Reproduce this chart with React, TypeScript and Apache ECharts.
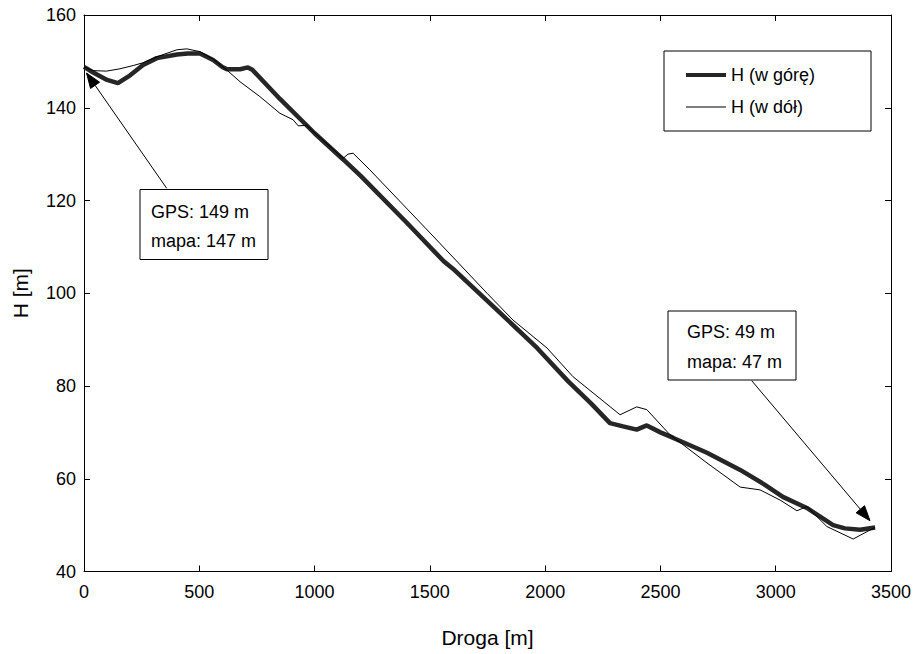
import React, { useEffect, useRef } from "react";
import * as echarts from "echarts";

// H (w górę) — ascent profile [droga m, H m]
const upDistance = [0, 40, 100, 147, 200, 256, 316, 403, 450, 503, 560, 600, 620, 677, 711, 730, 850, 1000, 1123, 1200, 1400, 1560, 1600, 1800, 1965, 2100, 2200, 2281, 2338, 2397, 2441, 2500, 2556, 2702, 2846, 2950, 3031, 3135, 3249, 3300, 3366, 3431];
const upHeight = [148.8, 147.6, 146.0, 145.3, 147.0, 149.2, 150.7, 151.5, 151.7, 151.7, 150.3, 148.8, 148.3, 148.3, 148.7, 148.2, 141.9, 134.5, 128.9, 125.3, 115.2, 106.9, 105.3, 96.0, 88.2, 81.0, 76.2, 72.0, 71.3, 70.6, 71.5, 70.0, 68.8, 65.6, 61.9, 58.8, 56.1, 53.7, 50.0, 49.3, 49.0, 49.5];

// H (w dół) — descent profile
const downDistance = [0, 40, 98, 156, 213, 256, 316, 403, 446, 503, 560, 620, 677, 763, 850, 907, 929, 966, 1000, 1124, 1145, 1167, 1240, 1501, 1748, 1861, 2008, 2121, 2325, 2397, 2441, 2541, 2702, 2846, 2932, 3019, 3092, 3135, 3222, 3336, 3396, 3431];
const downHeight = [148.8, 148.0, 147.9, 148.4, 149.1, 149.7, 151.0, 152.5, 152.7, 152.1, 150.5, 148.1, 145.6, 142.4, 138.8, 137.4, 136.1, 136.2, 134.6, 129.1, 130.0, 130.2, 126.6, 113.0, 100.0, 94.2, 88.2, 82.0, 73.8, 75.5, 74.9, 69.5, 63.4, 58.2, 57.6, 55.4, 53.1, 54.0, 49.7, 47.0, 48.6, 49.5];

const seriesNames = ["H (w górę)", "H (w dół)"];
const xTicks = { min: 0, max: 3500, interval: 500 };
const yTicks = { min: 40, max: 160, interval: 20 };
const note1 = ["GPS: 149 m", "mapa: 147 m"];
const note2 = ["GPS: 49 m", "mapa: 47 m"];

const FONT = "Liberation Sans, Arial, sans-serif";
const THICK = "#262626";

function arrow(x1: number, y1: number, x2: number, y2: number) {
  const dx = x2 - x1, dy = y2 - y1;
  const len = Math.sqrt(dx * dx + dy * dy);
  const ux = dx / len, uy = dy / len;
  const px = -uy, py = ux;
  const L = 15, W = 5.5;
  const bx = x2 - ux * L, by = y2 - uy * L;
  return [
    { type: "line", shape: { x1, y1, x2: bx, y2: by }, style: { stroke: "#000", lineWidth: 1 }, silent: true, z: 10 },
    {
      type: "polygon",
      shape: { points: [[x2, y2], [bx + px * W, by + py * W], [bx - px * W, by - py * W]] },
      style: { fill: "#000", stroke: "#000" },
      silent: true,
      z: 10,
    },
  ];
}

function noteBox(x: number, y: number, w: number, h: number, lines: string[], tx: number, ty: number[]) {
  const els: any[] = [
    { type: "rect", shape: { x, y, width: w, height: h }, style: { fill: "#fff", stroke: "#000", lineWidth: 1 }, z: 10 },
  ];
  lines.forEach((t, i) => {
    els.push({
      type: "text",
      x: tx,
      y: ty[i],
      style: { text: t, fill: "#000", font: `18px ${FONT}`, verticalAlign: "middle", align: "left" },
      z: 11,
    });
  });
  return els;
}

export default function App() {
  const ref = useRef<HTMLDivElement>(null);
  useEffect(() => {
    if (!ref.current) return;
    document.body.style.margin = "0";
    const chart = echarts.init(ref.current, null, { renderer: "svg" });
    const upData = upDistance.map((d, i) => [d, upHeight[i]]);
    const downData = downDistance.map((d, i) => [d, downHeight[i]]);
    const axisCommon = {
      axisLine: { show: true, onZero: false, lineStyle: { color: "#000", width: 1 } },
      axisTick: { show: true, inside: true, length: 6, lineStyle: { color: "#000", width: 1 } },
      splitLine: { show: false },
    };
    const graphics: any[] = [
      ...arrow(166.7, 188.3, 86.5, 73.0),
      ...noteBox(140, 189.5, 128, 70, note1, 151, [211.7, 240.5]),
      ...arrow(751.7, 380.7, 870, 520.7),
      ...noteBox(668, 311, 128, 69, note2, 687, [331.7, 361.7]),
    ];
    chart.setOption({
      animation: false,
      backgroundColor: "#fff",
      textStyle: { fontFamily: FONT },
      grid: { left: 84, top: 15, right: 30, bottom: 82.5, containLabel: false },
      legend: {
        orient: "vertical",
        left: 664,
        top: 51,
        itemWidth: 40,
        itemHeight: 14,
        itemGap: 14,
        padding: [15, 56, 15, 22],
        borderColor: "#000",
        borderWidth: 1,
        borderRadius: 0,
        backgroundColor: "#fff",
        symbolKeepAspect: true,
        textStyle: { fontSize: 18, color: "#000", fontFamily: FONT },
        data: [
          { name: seriesNames[0], icon: "path://M0,0L40,0L40,4L0,4Z", itemStyle: { color: THICK, borderWidth: 0 } },
          { name: seriesNames[1], icon: "path://M0,0L40,0L40,1L0,1Z", itemStyle: { color: "#000", borderWidth: 0 } },
        ],
      },
      xAxis: [
        {
          type: "value",
          ...xTicks,
          position: "bottom",
          ...axisCommon,
          axisLabel: { color: "#000", fontSize: 18, margin: 11, fontFamily: FONT, formatter: (v: number) => String(v) },
          name: "Droga [m]",
          nameLocation: "middle",
          nameGap: 55,
          nameTextStyle: { fontSize: 21, color: "#000", fontFamily: FONT },
        },
        {
          type: "value",
          ...xTicks,
          position: "top",
          ...axisCommon,
          axisLabel: { show: false },
        },
      ],
      yAxis: [
        {
          type: "value",
          ...yTicks,
          position: "left",
          ...axisCommon,
          axisLabel: { color: "#000", fontSize: 18, margin: 8, fontFamily: FONT, formatter: (v: number) => String(v) },
          name: "H [m]",
          nameLocation: "middle",
          nameGap: 53,
          nameRotate: 90,
          nameTextStyle: { fontSize: 21, color: "#000", fontFamily: FONT },
        },
        {
          type: "value",
          ...yTicks,
          position: "right",
          ...axisCommon,
          axisLabel: { show: false },
        },
      ],
      series: [
        {
          name: seriesNames[0],
          type: "line",
          data: upData,
          showSymbol: false,
          symbol: "none",
          lineStyle: { color: THICK, width: 4.5 },
          itemStyle: { color: THICK },
          z: 2,
        },
        {
          name: seriesNames[1],
          type: "line",
          data: downData,
          showSymbol: false,
          symbol: "none",
          lineStyle: { color: "#000", width: 1 },
          itemStyle: { color: "#000" },
          z: 3,
        },
      ],
      graphic: graphics,
    });
    return () => chart.dispose();
  }, []);
  return <div ref={ref} style={{ width: 921, height: 654 }} />;
}
